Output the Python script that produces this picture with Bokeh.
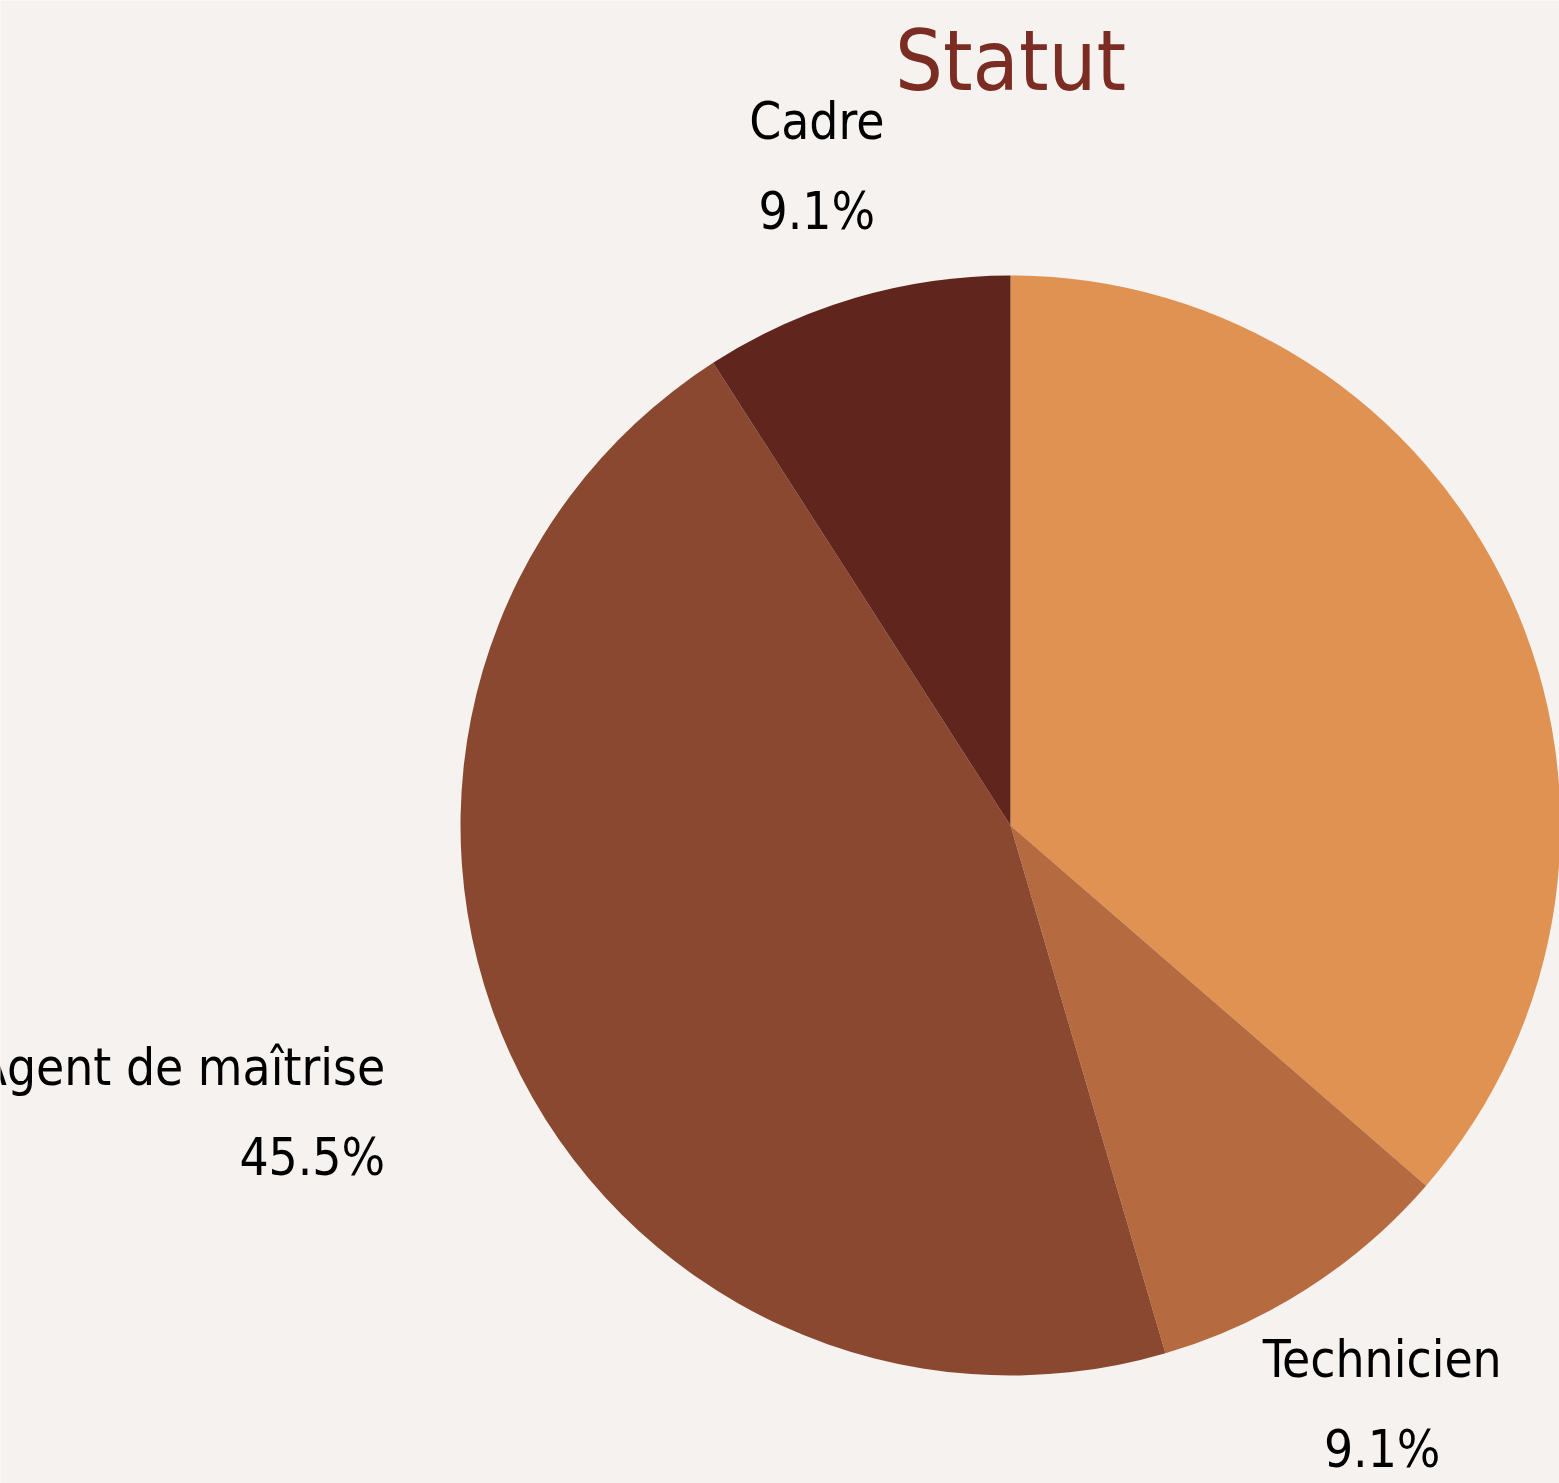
import numpy as np
from bokeh.plotting import figure
from bokeh.models import ColumnDataSource, Range1d
from bokeh.core.properties import value
from bokeh.embed import file_html
from bokeh.resources import INLINE

# Data
categories = ["Ouvrier / Employé", "Technicien", "Agent de maîtrise", "Cadre"]
counts = [4, 1, 5, 1]
colors = ["#E09252", "#B56B3F", "#8A4830", "#60251C"]
title_text = "Statut"

W, H = 1559, 1483
BG = "#F5F2EF"
FONT = "DejaVu Sans Condensed"

cx, cy, r = 1010, H - 825, 550
label_r = 1.25 * r

total = float(sum(counts))
fracs = np.array(counts) / total
cum = np.concatenate([[0], np.cumsum(fracs)]) * 2 * np.pi  # clockwise from top
start_cw, end_cw = cum[:-1], cum[1:]
start_angle = np.pi / 2 - end_cw
end_angle = np.pi / 2 - start_cw
mid = (start_cw + end_cw) / 2

lx = cx + label_r * np.sin(mid)
ly = cy + label_r * np.cos(mid)
align = ["center" if abs(np.sin(m)) < 0.7 else ("left" if np.sin(m) > 0 else "right") for m in mid]
pct = [f"{f*100:.1f}%" for f in fracs]

src = ColumnDataSource(dict(cat=categories, start=start_angle, end=end_angle, color=colors))

# labels that fall outside the canvas (left-aligned beyond right edge) are not drawn
vis = [i for i in range(len(categories)) if not (align[i] == "left" and lx[i] > W)]
lsrc = ColumnDataSource(dict(cat=[categories[i] for i in vis], lx=lx[vis], ly=ly[vis],
                             align=[align[i] for i in vis], pct=[pct[i] for i in vis]))

p = figure(width=W, height=H, output_backend="svg", toolbar_location=None,
           x_range=Range1d(0, W), y_range=Range1d(0, H), min_border=0,
           background_fill_color=BG, border_fill_color=BG, outline_line_color=None)
p.axis.visible = False
p.grid.visible = False

p.wedge(x=cx, y=cy, radius=r, start_angle="start", end_angle="end", fill_color="color",
        line_color=None, source=src, direction="anticlock")

p.text(x="lx", y="ly", text="cat", text_align="align", text_baseline="middle",
       y_offset=-44, text_font=value(FONT), text_font_size="51px", text_color="#000000", source=lsrc)
p.text(x="lx", y="ly", text="pct", text_align="align", text_baseline="middle",
       y_offset=46, text_font=value(FONT), text_font_size="51px", text_color="#000000", source=lsrc)

p.text(x=[cx], y=[H - 60], text=[title_text], text_align="center", text_baseline="middle",
       text_font=value(FONT), text_font_size="84px", text_color="#7B2D23")

open("out.html", "w").write(file_html(p, INLINE))
